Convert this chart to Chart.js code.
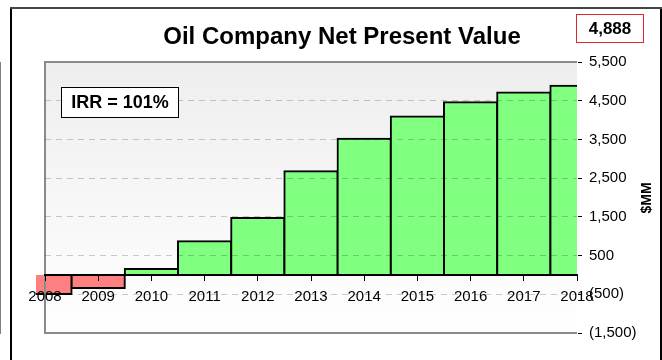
<!DOCTYPE html>
<html lang="en">
<head>
    <meta charset="UTF-8">
    <title>Oil Company Net Present Value</title>
    <style>
        body {
            margin: 0;
            background: #ffffff;
        }

        #npvChart {
            display: block;
        }
    </style>
    <script src="https://cdn.jsdelivr.net/npm/chart.js"></script>
</head>
<body>
<canvas id="npvChart" width="662" height="360"></canvas>

<script>
    // cumulative net present value by year, $MM
    const years = ['2008', '2009', '2010', '2011', '2012', '2013', '2014', '2015', '2016', '2017', '2018'];
    const npv = [-490, -340, 150, 870, 1470, 2680, 3520, 4090, 4460, 4710, 4888];
    const yTicks = [-1500, -500, 500, 1500, 2500, 3500, 4500, 5500];
    const irr = 101;

    const FONT = "'Liberation Sans', Arial, sans-serif";

    function money(v) {
        const s = Math.abs(v).toLocaleString('en-US');
        return v < 0 ? '(' + s + ')' : s;
    }

    // shaded plot area, grey frame, title and the two boxed labels
    const decorations = {
        id: 'decorations',
        beforeDraw(chart) {
            const {ctx, chartArea: a} = chart;
            ctx.save();
            const g = ctx.createLinearGradient(0, a.top, 0, a.bottom);
            g.addColorStop(0, '#eeeeee');
            g.addColorStop(1, '#ffffff');
            ctx.fillStyle = g;
            ctx.fillRect(a.left, a.top, a.right - a.left, a.bottom - a.top);
            ctx.restore();
        },
        afterDatasetsDraw(chart) {
            const {ctx, chartArea: a} = chart;
            ctx.save();
            ctx.strokeStyle = '#8a8a8a';
            ctx.lineWidth = 2;
            ctx.beginPath();
            ctx.moveTo(a.right, a.top);
            ctx.lineTo(a.left, a.top);
            ctx.lineTo(a.left, a.bottom);
            ctx.lineTo(a.right, a.bottom);
            ctx.stroke();
            ctx.restore();
        },
        afterDraw(chart) {
            const {ctx} = chart;
            ctx.save();

            // outer frame
            ctx.fillStyle = '#000';
            ctx.fillRect(10, 7, 2, 353);
            ctx.fillRect(660, 7, 2, 353);
            ctx.fillStyle = '#444';
            ctx.fillRect(10, 7, 652, 2);

            ctx.fillStyle = '#000';
            ctx.textAlign = 'center';
            ctx.textBaseline = 'middle';
            ctx.font = 'bold 24px ' + FONT;
            ctx.fillText('Oil Company Net Present Value', 342, 37);

            // IRR box
            ctx.fillStyle = '#fff';
            ctx.fillRect(61, 87, 117, 30);
            ctx.strokeStyle = '#000';
            ctx.lineWidth = 1;
            ctx.strokeRect(61.5, 87.5, 117, 30);
            ctx.fillStyle = '#000';
            ctx.font = 'bold 18px ' + FONT;
            ctx.fillText('IRR = ' + irr + '%', 120, 103);

            // final NPV box
            ctx.fillStyle = '#fff';
            ctx.fillRect(576, 14, 67, 28);
            ctx.strokeStyle = '#e02828';
            ctx.strokeRect(576.5, 14.5, 67, 28);
            ctx.fillStyle = '#000';
            ctx.font = 'bold 17px ' + FONT;
            ctx.fillText(money(npv[npv.length - 1]), 610, 29);

            // axis title, reading upwards
            ctx.translate(647, 198);
            ctx.rotate(-Math.PI / 2);
            ctx.font = 'bold 14px ' + FONT;
            ctx.fillText('$MM', 0, 0);
            ctx.restore();
        }
    };

    new Chart(document.getElementById('npvChart'), {
        type: 'bar',
        data: {
            labels: years,
            datasets: [{
                data: npv,
                backgroundColor: npv.map(v => v < 0 ? '#ff8080' : '#80ff80'),
                borderColor: '#000',
                borderWidth: 2,
                borderSkipped: 'start',
                inflateAmount: 1,
                barPercentage: 1,
                categoryPercentage: 1,
                clip: {left: 9, top: 0, right: 0, bottom: 0}
            }]
        },
        options: {
            responsive: false,
            animation: false,
            layout: {
                padding: {top: 62, left: 45, bottom: 27, right: 0}
            },
            plugins: {
                legend: {display: false},
                title: {display: false},
                tooltip: {enabled: false}
            },
            scales: {
                x: {
                    position: {y: 0},
                    offset: false,
                    grid: {
                        offset: false,
                        drawOnChartArea: false,
                        tickLength: 5,
                        tickColor: '#000',
                        z: 1
                    },
                    border: {color: '#000', width: 2, z: 1},
                    ticks: {
                        color: '#000',
                        font: {family: FONT, size: 15},
                        padding: 8,
                        maxRotation: 0,
                        autoSkip: false,
                        z: 1
                    }
                },
                y: {
                    position: 'right',
                    min: yTicks[0],
                    max: yTicks[yTicks.length - 1],
                    afterBuildTicks: scale => {
                        scale.ticks = yTicks.map(v => ({value: v}));
                    },
                    afterFit: scale => {
                        scale.width = 85;
                    },
                    grid: {
                        color: c => (c.tick && (c.tick.value === 5500 || c.tick.value === -1500)) ? 'rgba(0,0,0,0)' : 'rgba(0,0,0,0.2)',
                        tickColor: '#000',
                        tickLength: 5,
                        z: 1
                    },
                    border: {color: '#000', width: 1, dash: [6, 5]},
                    ticks: {
                        color: '#000',
                        font: {family: FONT, size: 15},
                        padding: 7,
                        autoSkip: false,
                        callback: v => money(v)
                    }
                }
            }
        },
        plugins: [decorations]
    });
</script>

</body>
</html>
